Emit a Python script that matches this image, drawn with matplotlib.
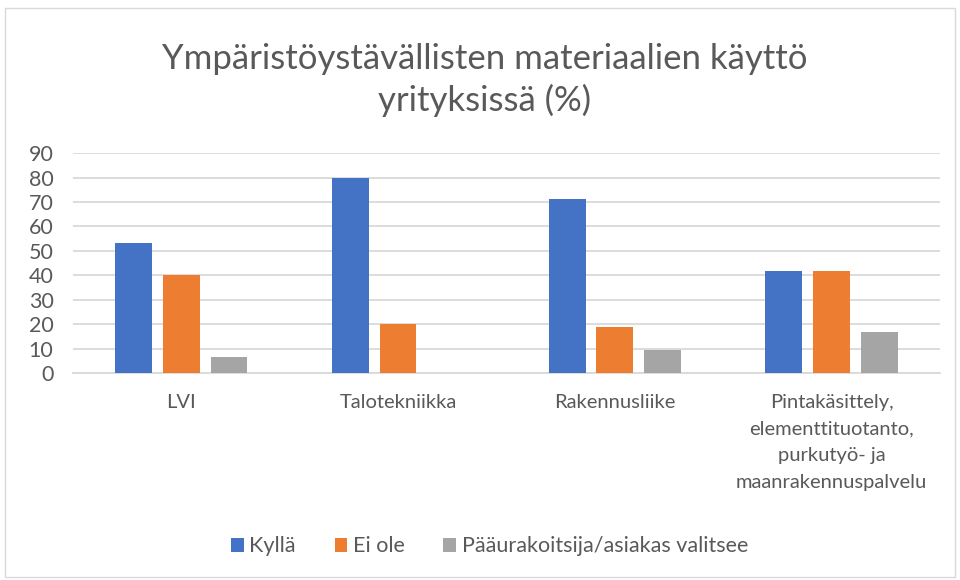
import numpy as np
import matplotlib
matplotlib.use("Agg")
import matplotlib.pyplot as plt
from matplotlib.patches import Rectangle

plt.rcParams['font.family'] = ['Lato', 'DejaVu Sans']

categories = ["LVI", "Talotekniikka", "Rakennusliike",
              "Pintakäsittely,\nelementtituotanto,\npurkutyö- ja\nmaanrakennuspalvelu"]
series_names = ["Kyllä", "Ei ole", "Pääurakoitsija/asiakas valitsee"]
kylla = [53.3, 80.0, 71.4, 41.7]
ei_ole = [40.0, 20.0, 19.0, 41.7]
paaurakoitsija = [6.7, 0.0, 9.5, 16.7]
yticks = list(range(0, 100, 10))
colors = ["#4472C4", "#ED7D31", "#A5A5A5"]
txt = "#595959"

fig = plt.figure(figsize=(9.6, 5.8), dpi=100)
ax = fig.add_axes([0.076, 0.357, 0.903, 0.379])

x = np.arange(len(categories))
width = 0.17
pitch = 0.22
for i, (vals, name) in enumerate(zip([kylla, ei_ole, paaurakoitsija], series_names)):
    ax.bar(x + (i - 1) * pitch, vals, width, color=colors[i], label=name, zorder=3)

ax.set_xlim(-0.5, 3.5)
ax.set_ylim(0, 90)
ax.set_yticks(yticks)
ax.yaxis.grid(True, color="#D9D9D9", linewidth=1.3, zorder=0)
for s in ["top", "right", "left"]:
    ax.spines[s].set_visible(False)
ax.spines["bottom"].set_color("#D9D9D9")
ax.spines["bottom"].set_linewidth(1.3)
ax.tick_params(axis="both", length=0, colors=txt)
ax.tick_params(axis="x", pad=15, labelsize=14.5)
ax.tick_params(axis="y", pad=14, labelsize=15.5)
ax.set_xticks(x)
ax.set_xticklabels(categories, linespacing=1.7)

fig.text(0.505, 0.862, "Ympäristöystävällisten materiaalien käyttö\nyrityksissä (%)",
         ha="center", va="center", fontsize=25, color=txt, linespacing=1.35)

leg = fig.legend(loc="center", bbox_to_anchor=(0.51, 0.058), ncol=3, frameon=False,
                 fontsize=15.5, handlelength=0.6, handleheight=0.6, handletextpad=0.25,
                 columnspacing=1.8)
for t in leg.get_texts():
    t.set_color(txt)

fig.patches.append(Rectangle((0.005, 0.005), 0.99, 0.982, transform=fig.transFigure,
                             fill=False, edgecolor="#D9D9D9", linewidth=1))

fig.savefig("out.png", dpi=100, facecolor="white")
